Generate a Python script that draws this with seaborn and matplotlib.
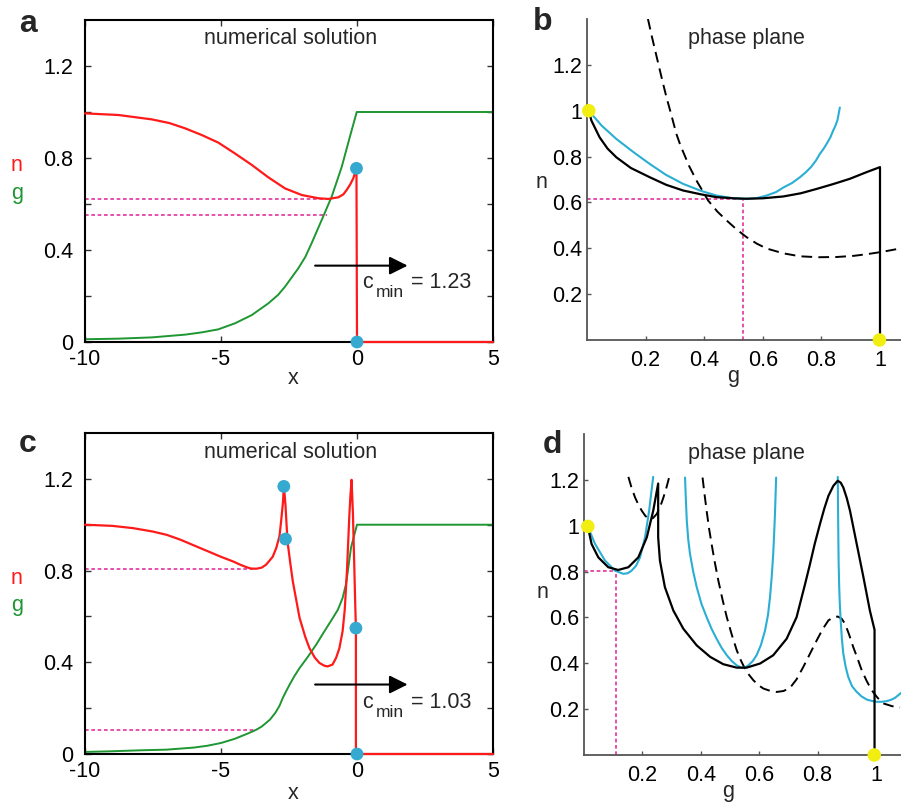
import matplotlib
matplotlib.use("Agg")
import matplotlib.pyplot as plt
import seaborn as sns

# ---------------- data: panel a (numerical solution, c_min = 1.23) ----------------
a_n_x = [-10, -8.775, -7.55, -6.9, -6.32, -5.71, -5.10, -4.49, -3.87, -3.26, -2.65, -2.03,
         -1.42, -1.05, -0.69, -0.5, -0.38, -0.25, -0.135, -0.02, 0.0, 5.0]
a_n_y = [0.994, 0.987, 0.968, 0.952, 0.929, 0.90, 0.867, 0.820, 0.770, 0.716, 0.668, 0.639,
         0.625, 0.622, 0.629, 0.642, 0.661, 0.685, 0.712, 0.755, 0.0, 0.0]
a_g_x = [-10, -8.775, -7.55, -6.32, -5.7, -5.10, -4.49, -3.87, -3.26, -2.9, -2.65, -2.16,
         -1.9, -1.67, -1.30, -0.93, -0.56, -0.26, -0.01, 5]
a_g_y = [0.012, 0.0145, 0.02, 0.032, 0.042, 0.055, 0.081, 0.117, 0.168, 0.205, 0.240, 0.320,
         0.37, 0.429, 0.530, 0.632, 0.762, 0.893, 1.0, 1.0]
a_ref_levels = [0.623, 0.552]
a_ref_ends = [-1.05, -1.12]
a_dots_x = [-0.02, 0.0]
a_dots_y = [0.755, 0.0]

# ---------------- data: panel b (phase plane) ----------------
b_traj_g = [0.006, 0.015, 0.043, 0.07, 0.1, 0.15, 0.214, 0.27, 0.328, 0.39, 0.442, 0.5,
            0.544, 0.6, 0.67, 0.73, 0.784, 0.84, 0.897, 0.954, 1.0, 1.0]
b_traj_n = [1.0, 0.957, 0.884, 0.835, 0.797, 0.75, 0.71, 0.677, 0.652, 0.635, 0.623, 0.618,
            0.616, 0.618, 0.626, 0.64, 0.659, 0.68, 0.703, 0.732, 0.754, 0.0]
b_cyan_g = [0.006, 0.05, 0.1, 0.16, 0.214, 0.27, 0.328, 0.39, 0.442, 0.5, 0.544, 0.58,
            0.613, 0.645, 0.67, 0.7, 0.727, 0.748, 0.765, 0.781, 0.795, 0.808, 0.82, 0.831,
            0.84, 0.848, 0.855, 0.863]
b_cyan_n = [1.0, 0.935, 0.877, 0.818, 0.768, 0.72, 0.681, 0.65, 0.630, 0.618, 0.616, 0.619,
            0.630, 0.645, 0.665, 0.685, 0.710, 0.733, 0.755, 0.782, 0.812, 0.835, 0.86, 0.885,
            0.913, 0.935, 0.96, 1.014]
b_dash_g = [0.208, 0.222, 0.235, 0.248, 0.26, 0.272, 0.285, 0.305, 0.32, 0.335, 0.348, 0.362,
            0.376, 0.39, 0.413, 0.445, 0.476, 0.51, 0.544, 0.58, 0.613, 0.67, 0.727, 0.79,
            0.852, 0.91, 0.954, 1.01, 1.068]
b_dash_n = [1.40, 1.32, 1.25, 1.18, 1.116, 1.055, 0.995, 0.899, 0.845, 0.80, 0.76, 0.725,
            0.69, 0.66, 0.609, 0.56, 0.522, 0.483, 0.449, 0.42, 0.399, 0.378, 0.365, 0.361,
            0.362, 0.367, 0.374, 0.385, 0.399]
b_ref_g, b_ref_n = 0.533, 0.616
b_dots_g = [0.006, 0.998]
b_dots_n = [1.0, 0.0]

# ---------------- data: panel c (numerical solution, c_min = 1.03) ----------------
c_n_x = [-10, -9, -8.23, -7.5, -7, -6.5, -6, -5.5, -5, -4.56, -4.3, -4.07, -3.9, -3.70,
         -3.5, -3.34, -3.1, -2.97, -2.85, -2.79, -2.72, -2.69, -2.66, -2.63, -2.58, -2.54,
         -2.45, -2.36, -2.2, -2.11, -1.9, -1.75, -1.55, -1.38, -1.2, -1.08, -0.9, -0.77,
         -0.65, -0.53, -0.45, -0.37, -0.28, -0.24, -0.2, -0.15, -0.1, -0.06, -0.04, -0.04, 5]
c_n_y = [1.0, 0.995, 0.985, 0.97, 0.956, 0.935, 0.91, 0.885, 0.86, 0.840, 0.826, 0.815,
         0.809, 0.808, 0.813, 0.826, 0.86, 0.898, 0.95, 1.015, 1.10, 1.167, 1.13, 1.087,
         0.98, 0.913, 0.83, 0.753, 0.65, 0.593, 0.51, 0.462, 0.42, 0.397, 0.385, 0.382,
         0.39, 0.419, 0.46, 0.535, 0.63, 0.797, 1.044, 1.13, 1.196, 1.05, 0.82, 0.63, 0.549,
         0.0, 0.0]
c_g_x = [-10, -9, -8, -7, -6, -5.5, -5, -4.5, -4, -3.7, -3.5, -3.2, -3.0, -2.85, -2.73,
         -2.6, -2.48, -2.3, -2.11, -1.8, -1.5, -1.2, -0.89, -0.7, -0.53, -0.4, -0.22, -0.1,
         0, 5]
c_g_y = [0.009, 0.012, 0.016, 0.019, 0.028, 0.036, 0.048, 0.066, 0.09, 0.106, 0.12, 0.15,
         0.18, 0.21, 0.244, 0.275, 0.302, 0.34, 0.375, 0.425, 0.477, 0.535, 0.593, 0.63,
         0.68, 0.743, 0.90, 0.955, 1.0, 1.0]
c_ref_levels = [0.808, 0.106]
c_ref_ends = [-3.7, -3.7]
c_dots_x = [-2.69, -2.63, -0.04, 0.0]
c_dots_y = [1.167, 0.9375, 0.549, 0.0]

# ---------------- data: panel d (phase plane) ----------------
d_traj_g = [0.013, 0.026, 0.049, 0.083, 0.117, 0.152, 0.186, 0.215, 0.237, 0.254, 0.254,
            0.260, 0.277, 0.306, 0.340, 0.386, 0.432, 0.477, 0.523, 0.557, 0.603, 0.648,
            0.694, 0.728, 0.757, 0.774, 0.79, 0.808, 0.823, 0.837, 0.854, 0.869, 0.879,
            0.888, 0.90, 0.911, 0.934, 0.957, 0.979, 0.995, 0.995]
d_traj_n = [0.997, 0.920, 0.862, 0.819, 0.807, 0.819, 0.862, 0.949, 1.065, 1.184, 0.949,
            0.848, 0.732, 0.630, 0.551, 0.478, 0.428, 0.396, 0.381, 0.381, 0.399, 0.435,
            0.507, 0.601, 0.745, 0.833, 0.92, 1.007, 1.075, 1.130, 1.174, 1.196, 1.188,
            1.167, 1.12, 1.065, 0.920, 0.775, 0.630, 0.546, 0.0]
d_cyan1_g = [0.013, 0.02, 0.038, 0.072, 0.106, 0.135, 0.150, 0.163, 0.178, 0.192, 0.209,
             0.223, 0.230, 0.237]
d_cyan1_n = [0.997, 0.975, 0.920, 0.848, 0.804, 0.790, 0.793, 0.804, 0.825, 0.862, 0.949,
             1.065, 1.14, 1.213]
d_cyan2_g = [0.346, 0.349, 0.352, 0.357, 0.363, 0.374, 0.386, 0.402, 0.420, 0.437, 0.454,
             0.471, 0.489, 0.506, 0.523, 0.540, 0.552, 0.563, 0.578, 0.591, 0.606, 0.620,
             0.630, 0.637, 0.643, 0.648, 0.651, 0.654, 0.656, 0.658]
d_cyan2_n = [1.21, 1.11, 1.022, 0.94, 0.877, 0.80, 0.732, 0.66, 0.601, 0.55, 0.507, 0.468,
             0.435, 0.41, 0.391, 0.380, 0.382, 0.391, 0.41, 0.435, 0.48, 0.543, 0.61, 0.688,
             0.78, 0.877, 0.96, 1.051, 1.13, 1.21]
d_cyan3_g = [0.869, 0.870, 0.871, 0.872, 0.874, 0.876, 0.879, 0.883, 0.888, 0.896, 0.905,
             0.918, 0.934, 0.950, 0.968, 0.985, 1.002, 1.020, 1.037, 1.052, 1.065, 1.086]
d_cyan3_n = [1.213, 1.08, 0.949, 0.84, 0.732, 0.66, 0.587, 0.51, 0.442, 0.385, 0.340,
             0.30, 0.275, 0.256, 0.242, 0.236, 0.232, 0.232, 0.235, 0.241, 0.249, 0.271]
d_dash1_g = [0.152, 0.163, 0.175, 0.187, 0.198, 0.21, 0.223, 0.236, 0.249, 0.261, 0.272,
             0.282, 0.292]
d_dash1_n = [1.213, 1.165, 1.123, 1.09, 1.065, 1.043, 1.029, 1.033, 1.051, 1.083, 1.123,
             1.165, 1.213]
d_dash2_g = [0.406, 0.413, 0.420, 0.428, 0.437, 0.448, 0.460, 0.474, 0.489, 0.506, 0.523,
             0.537, 0.551, 0.565, 0.580, 0.597, 0.614, 0.637, 0.660, 0.683, 0.705, 0.728,
             0.751, 0.774, 0.797, 0.817, 0.837, 0.853, 0.869, 0.882, 0.894, 0.908, 0.922,
             0.937, 0.951, 0.968, 0.985, 1.005, 1.025, 1.055, 1.082]
d_dash2_n = [1.21, 1.135, 1.065, 0.99, 0.920, 0.84, 0.761, 0.68, 0.601, 0.525, 0.457,
             0.413, 0.377, 0.35, 0.326, 0.305, 0.290, 0.280, 0.275, 0.279, 0.292, 0.33,
             0.384, 0.442, 0.5, 0.548, 0.587, 0.600, 0.604, 0.595, 0.572, 0.525, 0.471,
             0.42, 0.370, 0.323, 0.283, 0.25, 0.225, 0.213, 0.207]
d_ref_g, d_ref_n = 0.108, 0.804
d_dots_g = [0.013, 0.994]
d_dots_n = [0.997, 0.0]

# tick labels
sol_xticks = [-10, -5, 0, 5]
sol_xticklabels = ["-10", "-5", "0", "5"]
sol_yticks = [0, 0.2, 0.4, 0.6, 0.8, 1.0, 1.2]
sol_yticklabels = ["0", "", "0.4", "", "0.8", "", "1.2"]
ph_xticks = [0.2, 0.4, 0.6, 0.8, 1.0]
ph_xticklabels = ["0.2", "0.4", "0.6", "0.8", "1"]
ph_yticks = [0.2, 0.4, 0.6, 0.8, 1.0, 1.2]
ph_yticklabels = ["0.2", "0.4", "0.6", "0.8", "1", "1.2"]

# ---------------- style ----------------
sns.set_theme(style="white")
plt.rcParams["font.family"] = ["Liberation Sans", "DejaVu Sans"]
plt.rcParams["axes.unicode_minus"] = False

RED = "#FF1A1A"
GREEN = "#1E9632"
CYAN = "#2AAED4"
DOT = "#35A9CF"
MAG = "#E2329E"
YEL = "#F2EE12"
FS = 15.5
W, H = 901, 805

fig = plt.figure(figsize=(W / 100, H / 100), dpi=100)


def ax_px(left, top, right, bottom):
    return fig.add_axes([left / W, 1 - bottom / H, (right - left) / W, (bottom - top) / H])


def line(ax, x, y, color, lw=1.5, ls="-", clip=True, z=2):
    sns.lineplot(x=x, y=y, ax=ax, sort=False, estimator=None, color=color, lw=lw,
                 linestyle=ls, legend=False, clip_on=clip, zorder=z)


def dots(ax, x, y, color, s=85):
    sns.scatterplot(x=x, y=y, ax=ax, s=s, color=color, edgecolor="none", zorder=6,
                    clip_on=False, legend=False)


MAGDASH = (0, (2.2, 1.6))
BLKDASH = (0, (5.5, 3.2))


def style_solution(ax):
    ax.set_xlim(-10, 5)
    ax.set_ylim(0, 1.4)
    ax.set_xticks(sol_xticks)
    ax.set_xticklabels(sol_xticklabels)
    ax.set_yticks(sol_yticks)
    ax.set_yticklabels(sol_yticklabels)
    for sp in ax.spines.values():
        sp.set_visible(True)
        sp.set_color("black")
        sp.set_linewidth(1.5)
    ax.tick_params(direction="in", length=4, width=1, color="#333333", top=True,
                   right=True, bottom=True, left=True, labelsize=FS, labelcolor="black")
    ax.tick_params(axis="x", pad=5)
    ax.tick_params(axis="y", pad=8.5)
    ax.set_ylabel("")


def style_phase(ax, xmax):
    ax.set_xlim(0, xmax)
    ax.set_ylim(0, 1.4)
    ax.set_xticks(ph_xticks)
    ax.set_xticklabels(ph_xticklabels)
    ax.set_yticks(ph_yticks)
    ax.set_yticklabels(ph_yticklabels)
    ax.spines["top"].set_visible(False)
    ax.spines["right"].set_visible(False)
    for k in ("left", "bottom"):
        ax.spines[k].set_color("#555555")
        ax.spines[k].set_linewidth(1.3)
    ax.tick_params(direction="in", length=3, width=1, color="#555555", bottom=True,
                   left=True, labelsize=FS, labelcolor="black")
    ax.tick_params(axis="x", pad=7)
    ax.tick_params(axis="y", pad=3.5)


def arrow(ax, x0, x1, y):
    ax.annotate("", xy=(x1, y), xytext=(x0, y),
                arrowprops=dict(arrowstyle="-|>,head_length=1.1,head_width=0.55",
                                mutation_scale=10, lw=1.5, color="black",
                                shrinkA=0, shrinkB=0))


# ---------------- panel a ----------------
axa = ax_px(85, 20, 493, 342)
for lev, end in zip(a_ref_levels, a_ref_ends):
    line(axa, [-10, end], [lev, lev], MAG, lw=1.2, ls=MAGDASH)
line(axa, a_g_x, a_g_y, GREEN, lw=1.4)
line(axa, a_n_x, a_n_y, RED, lw=1.6, clip=False, z=3)
dots(axa, a_dots_x, a_dots_y, DOT)
style_solution(axa)
axa.text(-2.46, 1.32, "numerical solution", ha="center", va="center", fontsize=FS)
arrow(axa, -1.54, 1.86, 0.332)
axa.text(0.206, 0.235, "c", ha="left", va="baseline", fontsize=FS)
axa.text(0.673, 0.197, "min", ha="left", va="baseline", fontsize=12.5)
axa.text(1.985, 0.235, "= 1.23", ha="left", va="baseline", fontsize=FS)
axa.set_xlabel("x", fontsize=FS)
axa.xaxis.set_label_coords(0.51, -0.112)
axa.xaxis.label.set_va("center")

# ---------------- panel b ----------------
axb = ax_px(587, 19, 901, 340)
line(axb, [0, b_ref_g], [b_ref_n, b_ref_n], MAG, lw=1.2, ls=MAGDASH)
line(axb, [b_ref_g, b_ref_g], [0, b_ref_n], MAG, lw=1.2, ls=MAGDASH)
line(axb, b_dash_g, b_dash_n, "black", lw=1.4, ls=BLKDASH)
line(axb, b_cyan_g, b_cyan_n, CYAN, lw=1.5)
line(axb, b_traj_g, b_traj_n, "black", lw=1.6, z=3)
dots(axb, b_dots_g, b_dots_n, YEL, s=95)
style_phase(axb, 314 / 293)
axb.text(0.545, 1.313, "phase plane", ha="center", va="center", fontsize=FS)
axb.set_xlabel("g", fontsize=FS)
axb.xaxis.set_label_coords(0.465, -0.115)
axb.xaxis.label.set_va("center")
axb.set_ylabel("n", fontsize=FS, rotation=0)
axb.yaxis.set_label_coords(-0.146, 0.492)
axb.yaxis.label.set_va("center")
axb.yaxis.label.set_ha("center")

# ---------------- panel c ----------------
axc = ax_px(85, 433, 493, 754)
for lev, end in zip(c_ref_levels, c_ref_ends):
    line(axc, [-10, end], [lev, lev], MAG, lw=1.2, ls=MAGDASH)
line(axc, c_g_x, c_g_y, GREEN, lw=1.4)
line(axc, c_n_x, c_n_y, RED, lw=1.6, clip=False, z=3)
dots(axc, c_dots_x, c_dots_y, DOT)
style_solution(axc)
axc.text(-2.46, 1.313, "numerical solution", ha="center", va="center", fontsize=FS)
arrow(axc, -1.54, 1.86, 0.303)
axc.text(0.206, 0.199, "c", ha="left", va="baseline", fontsize=FS)
axc.text(0.673, 0.162, "min", ha="left", va="baseline", fontsize=12.5)
axc.text(1.985, 0.199, "= 1.03", ha="left", va="baseline", fontsize=FS)
axc.set_xlabel("x", fontsize=FS)
axc.xaxis.set_label_coords(0.51, -0.1215)
axc.xaxis.label.set_va("center")

# ---------------- panel d ----------------
axd = ax_px(584, 434, 901, 755)
line(axd, [0, d_ref_g], [d_ref_n, d_ref_n], MAG, lw=1.2, ls=MAGDASH)
line(axd, [d_ref_g, d_ref_g], [0, d_ref_n], MAG, lw=1.2, ls=MAGDASH)
line(axd, d_dash1_g, d_dash1_n, "black", lw=1.4, ls=BLKDASH)
line(axd, d_dash2_g, d_dash2_n, "black", lw=1.4, ls=BLKDASH)
line(axd, d_cyan1_g, d_cyan1_n, CYAN, lw=1.5)
line(axd, d_cyan2_g, d_cyan2_n, CYAN, lw=1.5)
line(axd, d_cyan3_g, d_cyan3_n, CYAN, lw=1.5)
line(axd, d_traj_g, d_traj_n, "black", lw=1.6, z=3)
dots(axd, d_dots_g, d_dots_n, YEL, s=95)
style_phase(axd, 317 / 292)
axd.text(0.557, 1.313, "phase plane", ha="center", va="center", fontsize=FS)
axd.set_xlabel("g", fontsize=FS)
axd.xaxis.set_label_coords(0.454, -0.115)
axd.xaxis.label.set_va("center")
axd.set_ylabel("n", fontsize=FS, rotation=0)
axd.yaxis.set_label_coords(-0.132, 0.505)
axd.yaxis.label.set_va("center")
axd.yaxis.label.set_ha("center")

# ---------------- figure-level labels ----------------
fig.text(17 / W, 1 - 165 / H, "n", color=RED, fontsize=FS, ha="center", va="center")
fig.text(17 / W, 1 - 193 / H, "g", color=GREEN, fontsize=FS, ha="center", va="center")
fig.text(17 / W, 1 - 578 / H, "n", color=RED, fontsize=FS, ha="center", va="center")
fig.text(17 / W, 1 - 605 / H, "g", color=GREEN, fontsize=FS, ha="center", va="center")
for lbl, px, py in [("a", 28, 24), ("b", 543, 22), ("c", 28, 444), ("d", 552, 445)]:
    fig.text(px / W, 1 - py / H, lbl, fontsize=23, fontweight="bold", ha="center",
             va="center")

fig.savefig("out.png", dpi=100)
